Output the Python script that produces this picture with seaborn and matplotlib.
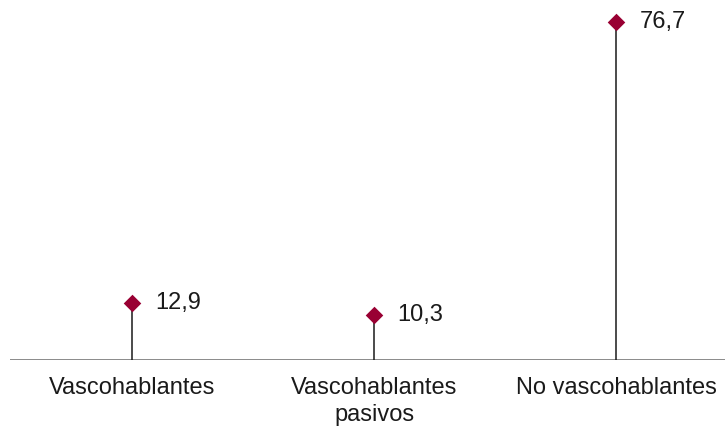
import pandas as pd
import matplotlib
matplotlib.use("Agg")
import matplotlib.pyplot as plt
import seaborn as sns

# data
categories = ["Vascohablantes", "Vascohablantes\npasivos", "No vascohablantes"]
values = [12.9, 10.3, 76.7]
value_labels = ["12,9", "10,3", "76,7"]

sns.set_style("white")
plt.rcParams["font.family"] = ["Liberation Sans", "DejaVu Sans"]

df = pd.DataFrame({"category": categories, "value": values})

fig = plt.figure(figsize=(7.25, 4.29), dpi=100)
ax = fig.add_axes([10 / 725, 69 / 429, 715 / 725, 360 / 429])

positions = list(range(len(categories)))
ax.vlines(positions, 0, df["value"], color="#1a1a1a", linewidth=1.1, zorder=2)
sns.scatterplot(data=df, x="category", y="value", marker="D", s=80,
                color="#990033", linewidth=0, ax=ax, zorder=3)

for pos, val, lab in zip(positions, values, value_labels):
    ax.annotate(lab, (pos, val), xytext=(17, 0), textcoords="offset points",
                ha="left", va="center", fontsize=17, color="#1a1a1a")

ax.axhline(0, color="#777777", linewidth=1.2, zorder=1)
ax.set_xlim(-0.504, 2.45)
ax.set_ylim(0, 81.7)
ax.set_yticks([])
ax.set_xticks(positions)
ax.set_xticklabels(categories, fontsize=17, color="#1a1a1a", linespacing=1.3)
ax.tick_params(axis="x", length=0, pad=12)
ax.set_xlabel("")
ax.set_ylabel("")
for side in ["top", "right", "left", "bottom"]:
    ax.spines[side].set_visible(False)

fig.savefig("out.png", dpi=100)
